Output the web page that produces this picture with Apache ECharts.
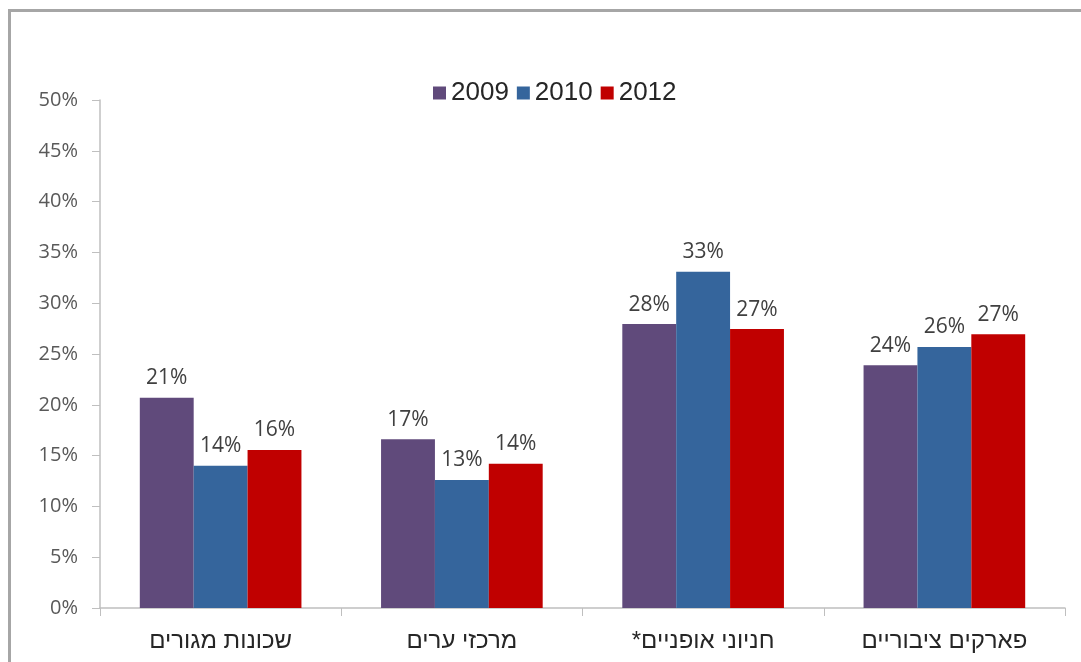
<!DOCTYPE html>
<html>
<head>
<meta charset="utf-8">
<script src="https://cdn.jsdelivr.net/npm/echarts@6/dist/echarts.min.js"></script>
<style>
html,body{margin:0;padding:0;background:#fff;}
#frame{position:absolute;left:8px;top:9px;width:1100px;height:700px;border-top:3px solid #a6a6a6;border-left:3px solid #a6a6a6;box-sizing:border-box;pointer-events:none;}
#chart{position:absolute;left:0;top:0;width:1081px;height:662px;}
</style>
</head>
<body>
<div id="chart"></div>
<div id="frame"></div>
<script>
const categories = ['שכונות מגורים', 'מרכזי ערים', 'חניוני אופניים*\u200F', 'פארקים ציבוריים'];
const seriesNames = ['2009', '2010', '2012'];
const values2009 = [20.7, 16.6, 27.95, 23.9];
const values2010 = [14.0, 12.6, 33.1, 25.7];
const values2012 = [15.55, 14.2, 27.45, 26.95];
const yTicks = [0, 5, 10, 15, 20, 25, 30, 35, 40, 45, 50];
const colors = ['#604a7b', '#35659c', '#c00000'];

const chart = echarts.init(document.getElementById('chart'), null, {renderer: 'canvas'});
const allValues = [values2009, values2010, values2012];
const labelStyle = {
  show: true, position: 'top', distance: 9,
  color: '#404040', fontSize: 21, fontFamily: 'Open Sans, Liberation Sans, sans-serif',
  formatter: p => Math.round(p.value) + '%'
};
chart.setOption({
  animation: false,
  backgroundColor: '#ffffff',
  legend: {
    top: 75, left: 428,
    itemWidth: 13, itemHeight: 13, itemGap: 8,
    icon: 'rect',
    textStyle: {fontSize: 26, color: '#262626', fontFamily: 'Liberation Sans, Arial, sans-serif', padding: [0,0,0,0]},
    data: seriesNames
  },
  grid: {left: 100, right: 16, top: 100, bottom: 54, containLabel: false},
  xAxis: {
    type: 'category', data: categories,
    axisLine: {lineStyle: {color: '#bfbfbf', width: 1.5}},
    axisTick: {show: true, length: 8, lineStyle: {color: '#bfbfbf'}},
    axisLabel: {color: '#262626', fontSize: 24, margin: 21, fontFamily: 'Liberation Sans, Arial, sans-serif'}
  },
  yAxis: {
    type: 'value', min: yTicks[0], max: yTicks[yTicks.length-1], interval: 5,
    axisLine: {show: true, lineStyle: {color: '#bfbfbf', width: 1.5}},
    axisTick: {show: true, length: 8, lineStyle: {color: '#bfbfbf'}},
    splitLine: {show: false},
    axisLabel: {color: '#595959', fontSize: 20, margin: 22, fontFamily: 'Open Sans, Liberation Sans, sans-serif', formatter: v => v + '%'}
  },
  series: seriesNames.map((n, i) => ({
    name: n, type: 'bar', data: allValues[i],
    barGap: '0%', barCategoryGap: '33%',
    itemStyle: {color: colors[i]},
    label: labelStyle
  }))
});
</script>
</body>
</html>
